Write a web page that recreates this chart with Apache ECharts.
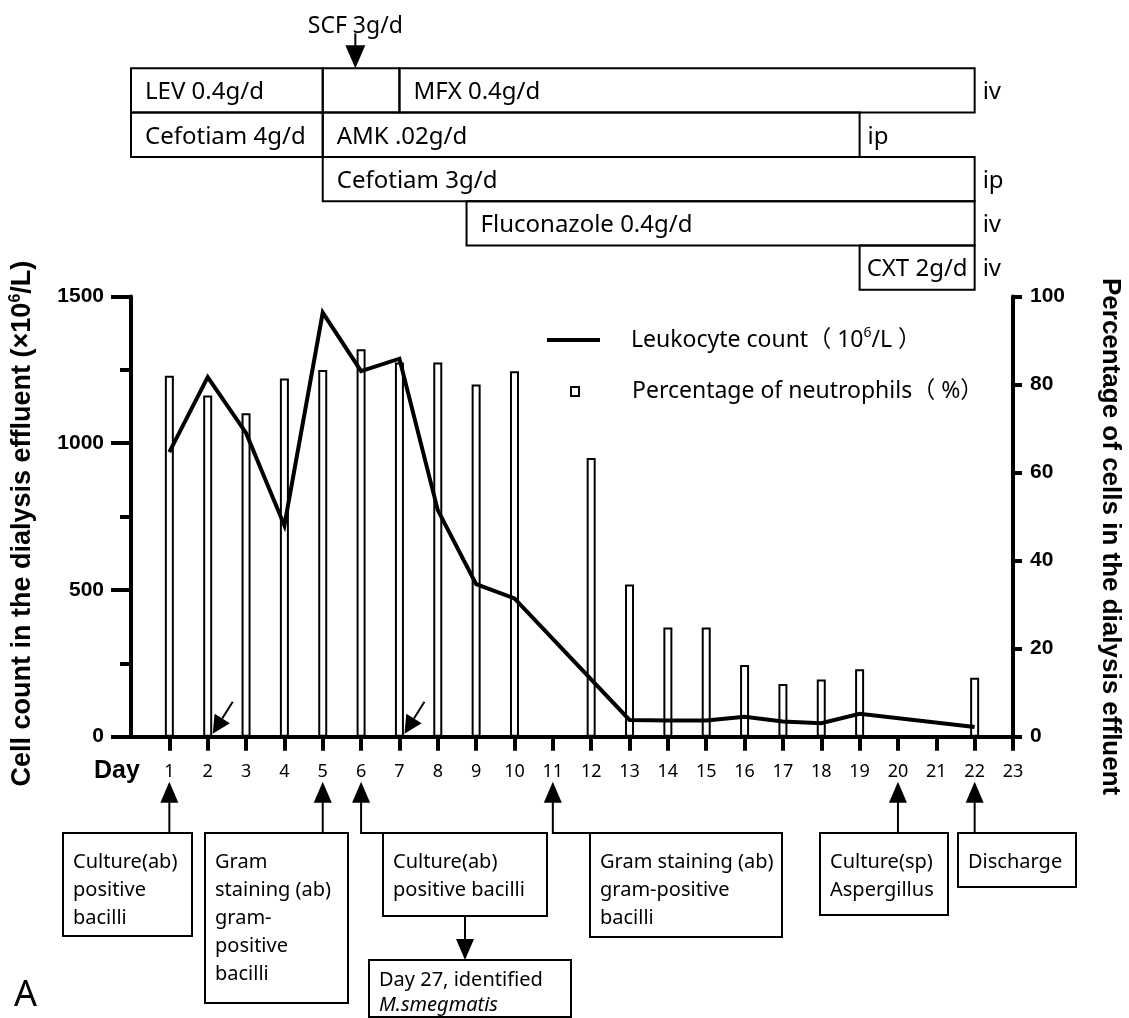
<!DOCTYPE html>
<html><head><meta charset="utf-8">
<script src="https://cdn.jsdelivr.net/npm/echarts@6/dist/echarts.min.js"></script>
<style>html,body{margin:0;padding:0;background:#fff}#c{width:1129px;height:1018px}</style>
</head><body><div id="c"></div>
<script>
// ---------- data ----------
const days = [1,2,3,4,5,6,7,8,9,10,11,12,13,14,15,16,17,18,19,20,21,22];
const leukocyte = [970,1225,1035,720,1445,1246,1288,772,520,471,null,null,57,55,55,68,52,46,78,null,null,33];
const neutrophilPct = [82,77.5,73.5,81.4,83.3,88,85,85,80,83,null,63.3,34.6,24.8,24.8,16.3,12,13,15.3,null,null,13.4];
const dayTicks = [1,2,3,4,5,6,7,8,9,10,11,12,13,14,15,16,17,18,19,20,21,22,23];

const treatLabels = ['LEV 0.4g/d','','MFX 0.4g/d','Cefotiam 4g/d','AMK .02g/d','Cefotiam 3g/d','Fluconazole 0.4g/d','CXT 2g/d'];
const treatRow    = [0,0,0,1,1,2,3,4];
const treatStart  = [0,5,7,0,5,5,8.75,19];
const treatEnd    = [5,7,22,5,19,22,22,22];
const routeLabels = ['iv','ip','ip','iv','iv'];
const routeEndDay = [22,19,22,22,22];
const scfDay = 5.85;
const scfLabel = 'SCF 3g/d';

const markerDays = [2,7];
const eventDays = [1,5,6,11,20,22];
const eventTexts = [
  ['Culture(ab)','positive','bacilli'],
  ['Gram','staining (ab)','gram-','positive','bacilli'],
  ['Culture(ab)','positive bacilli'],
  ['Gram staining (ab)','gram-positive','bacilli'],
  ['Culture(sp)','Aspergillus'],
  ['Discharge']
];
const followText = ['Day 27, identified','M.smegmatis'];

// ---------- layout (pixels) ----------
const eventBoxLayout = [[63,192,936],[205,348,1003],[383,547,916],[590,782,937],[820,948,915],[958,1076,887]];
const boxTop = 833;
const followBoxLayout = [369,571,960,1017];

const measureCtx = document.createElement('canvas').getContext('2d');
function textWidth(t, font){ measureCtx.font = font; return measureCtx.measureText(t).width; }

const FONT = "'Noto Sans','Noto Sans CJK SC',sans-serif";
const BOLD = "'Liberation Sans',Arial,sans-serif";

const chart = echarts.init(document.getElementById('c'), null, {renderer:'canvas'});

const option = {
  animation: false,
  backgroundColor: '#fff',
  grid: [
    {left:131, right:116, top:296.5, bottom:281.3, outerBoundsMode:'none', containLabel:false},
    {left:131, right:116, top:68.3, height:221.5, outerBoundsMode:'none', containLabel:false}
  ],
  legend: [
    {
      data:[{name:'Leukocyte count', icon:'rect'}],
      left:547, top:326, padding:0, selectedMode:false,
      itemWidth:53, itemHeight:4,
      itemStyle:{color:'#000', borderWidth:0},
      formatter: () => '{a|Leukocyte count（ 10}{s|6}{a|/L ）}',
      textStyle:{fontFamily:FONT, fontSize:23, color:'#000', padding:[0,0,0,26],
        rich:{a:{fontFamily:FONT, fontSize:23, color:'#000', lineHeight:28},
              s:{fontFamily:FONT, fontSize:14, color:'#000', verticalAlign:'top', lineHeight:14}}}
    },
    {
      data:[{name:'Percentage of neutrophils', icon:'rect'}],
      left:570, top:380, padding:0, selectedMode:false,
      itemWidth:8, itemHeight:9,
      itemStyle:{color:'#fff', borderColor:'#000', borderWidth:2},
      formatter: () => 'Percentage of neutrophils（ %）',
      textStyle:{fontFamily:FONT, fontSize:23, color:'#000', padding:[0,0,0,48]}
    }
  ],
  xAxis: [
    {
      gridIndex:0, type:'value', min:0, max:23, interval:1,
      axisLine:{show:true, onZero:false, lineStyle:{color:'#000', width:4}},
      axisTick:{show:true, length:14, customValues:dayTicks, lineStyle:{color:'#000', width:4}},
      axisLabel:{show:true, customValues:dayTicks, fontFamily:FONT, fontSize:18, color:'#000', margin:26},
      splitLine:{show:false}
    },
    {gridIndex:1, type:'value', min:0, max:23, show:false}
  ],
  yAxis: [
    {
      gridIndex:0, type:'value', min:0, max:1500, interval:500, position:'left',
      axisLine:{show:true, lineStyle:{color:'#000', width:4}},
      axisTick:{show:true, length:20, lineStyle:{color:'#000', width:4}},
      minorTick:{show:true, splitNumber:2, length:11, lineStyle:{color:'#000', width:4}},
      axisLabel:{fontFamily:BOLD, fontWeight:'bold', fontSize:21, color:'#000', margin:27, formatter: v => String(v)},
      splitLine:{show:false}, minorSplitLine:{show:false},
      name:'{t|Cell count in the dialysis effluent (×10}{s|6}{t|/L)}',
      nameLocation:'middle', nameGap:93, nameMoveOverlap:false,
      nameTextStyle:{padding:[0,14,0,0],
        rich:{t:{fontFamily:BOLD, fontWeight:'bold', fontSize:27, color:'#000', lineHeight:30},
              s:{fontFamily:BOLD, fontWeight:'bold', fontSize:16, color:'#000', verticalAlign:'top', lineHeight:16}}}
    },
    {
      gridIndex:0, type:'value', min:0, max:100, interval:20, position:'right',
      axisLine:{show:true, lineStyle:{color:'#000', width:4}},
      axisTick:{show:true, length:9, lineStyle:{color:'#000', width:4}},
      axisLabel:{fontFamily:BOLD, fontWeight:'bold', fontSize:21, color:'#000', margin:17},
      splitLine:{show:false},
      name:'Percentage of cells in the dialysis effluent',
      nameLocation:'middle', nameGap:84, nameRotate:-90, nameMoveOverlap:false,
      nameTextStyle:{fontFamily:BOLD, fontWeight:'bold', fontSize:26, color:'#000', padding:[0,0,0,40]}
    },
    {gridIndex:1, type:'category', data:['0','1','2','3','4'], inverse:true, show:false}
  ],
  graphic: [
    {type:'text', left:94, top:759, style:{text:'Day', fontFamily:BOLD, fontWeight:'bold', fontSize:25, fill:'#000'}},
    {type:'text', left:14, top:978, style:{text:'A', fontFamily:FONT, fontSize:36, fill:'#000'}}
  ],
  series: [
    {
      name:'Percentage of neutrophils', type:'bar', xAxisIndex:0, yAxisIndex:1,
      barWidth:9,
      itemStyle:{color:'#fff', borderColor:'#000', borderWidth:2},
      data: days.map((d,i) => [d, neutrophilPct[i]]),
      silent:true
    },
    {
      name:'Leukocyte count', type:'line', xAxisIndex:0, yAxisIndex:0,
      showSymbol:false, symbol:'none', connectNulls:true,
      lineStyle:{color:'#000', width:4, join:'miter', cap:'butt'},
      itemStyle:{color:'#000'},
      data: days.map((d,i) => [d, leukocyte[i]]),
      silent:true
    },
    // small diagonal markers at x axis
    {
      type:'custom', xAxisIndex:0, yAxisIndex:0, clip:false, silent:true, z:5,
      data: markerDays.map(d => [d, 0]),
      renderItem(params, api){
        const p = api.coord([api.value(0), 0]);
        const tip = [p[0]+5, p[1]-3];
        const tail = [p[0]+25, p[1]-35];
        const dx = tip[0]-tail[0], dy = tip[1]-tail[1];
        const L = Math.sqrt(dx*dx+dy*dy), ux = dx/L, uy = dy/L;
        const hl = 18, hw = 9;
        const base = [tip[0]-ux*hl, tip[1]-uy*hl];
        return {type:'group', children:[
          {type:'line', shape:{x1:tail[0], y1:tail[1], x2:base[0], y2:base[1]}, style:{stroke:'#000', lineWidth:2}},
          {type:'polygon', shape:{points:[tip,[base[0]-uy*hw, base[1]+ux*hw],[base[0]+uy*hw, base[1]-ux*hw]]}, style:{fill:'#000'}}
        ]};
      }
    },
    // event annotation boxes below the axis
    {
      type:'custom', xAxisIndex:0, yAxisIndex:0, clip:false, silent:true, z:5,
      data: eventDays.map(d => [d, 0]),
      renderItem(params, api){
        const i = params.dataIndex;
        const p = api.coord([api.value(0), 0]);
        const ax = p[0];
        const tipY = p[1] + 45;
        const b = eventBoxLayout[i];
        const children = [];
        const pts = [[ax, tipY+18],[ax, boxTop]];
        if (ax < b[0]) pts.push([b[0], boxTop]);
        children.push({type:'polyline', shape:{points:pts}, style:{stroke:'#000', lineWidth:2, fill:null}});
        children.push({type:'polygon', shape:{points:[[ax,tipY],[ax-9,tipY+21],[ax+9,tipY+21]]}, style:{fill:'#000'}});
        children.push({type:'rect', shape:{x:b[0], y:boxTop, width:b[1]-b[0], height:b[2]-boxTop}, style:{fill:'#fff', stroke:'#000', lineWidth:2}});
        children.push({type:'text', style:{text:eventTexts[i].join('\n'), x:b[0]+10, y:boxTop+15, fontFamily:FONT, fontSize:20, lineHeight:28, fill:'#000', align:'left', verticalAlign:'top'}});
        if (i === 2) {
          const f = followBoxLayout;
          const cx = (b[0]+b[1])/2;
          children.push({type:'line', shape:{x1:cx, y1:b[2], x2:cx, y2:f[2]-20}, style:{stroke:'#000', lineWidth:2}});
          children.push({type:'polygon', shape:{points:[[cx,f[2]],[cx-9,f[2]-21],[cx+9,f[2]-21]]}, style:{fill:'#000'}});
          children.push({type:'rect', shape:{x:f[0], y:f[2], width:f[1]-f[0], height:f[3]-f[2]}, style:{fill:'#fff', stroke:'#000', lineWidth:2}});
          children.push({type:'text', style:{text:'{n|'+followText[0]+'}\n{i|'+followText[1]+'}', x:f[0]+10, y:f[2]+8, align:'left', verticalAlign:'top',
            rich:{n:{fontFamily:FONT, fontSize:20, lineHeight:25, fill:'#000'}, i:{fontFamily:FONT, fontSize:20, fontStyle:'italic', lineHeight:25, fill:'#000'}}}});
        }
        return {type:'group', children};
      }
    },
    // treatment bars
    {
      type:'custom', xAxisIndex:1, yAxisIndex:2, clip:false, silent:true,
      encode:{x:[0,2], y:1},
      data: treatRow.map((r,i) => [treatStart[i], r, treatEnd[i]]),
      renderItem(params, api){
        const i = params.dataIndex;
        const a = api.coord([api.value(0), api.value(1)]);
        const b = api.coord([api.value(2), api.value(1)]);
        const h = api.size([0,1])[1];
        const w = b[0]-a[0];
        const label = treatLabels[i];
        const tw = textWidth(label, "24px 'Noto Sans'");
        const pad = (tw + 28 > w) ? (w - tw)/2 : 14;
        return {type:'group', children:[
          {type:'rect', shape:{x:a[0], y:a[1]-h/2, width:w, height:h}, style:{fill:'none', stroke:'#000', lineWidth:2}},
          {type:'text', style:{text:label, x:a[0]+pad, y:a[1]+2, fontFamily:FONT, fontSize:24, fill:'#000', align:'left', verticalAlign:'middle'}}
        ]};
      }
    },
    // route labels
    {
      type:'custom', xAxisIndex:1, yAxisIndex:2, clip:false, silent:true,
      data: routeEndDay.map((d,i) => [d, i]),
      renderItem(params, api){
        const p = api.coord([api.value(0), api.value(1)]);
        return {type:'text', style:{text:routeLabels[params.dataIndex], x:p[0]+8, y:p[1]+2, fontFamily:FONT, fontSize:24, fill:'#000', align:'left', verticalAlign:'middle'}};
      }
    },
    // SCF arrow
    {
      type:'custom', xAxisIndex:1, yAxisIndex:2, clip:false, silent:true,
      data: [[scfDay, 0]],
      renderItem(params, api){
        const p = api.coord([api.value(0), api.value(1)]);
        const h = api.size([0,1])[1];
        const top = p[1]-h/2;
        return {type:'group', children:[
          {type:'line', shape:{x1:p[0], y1:top-35, x2:p[0], y2:top-20}, style:{stroke:'#000', lineWidth:2}},
          {type:'polygon', shape:{points:[[p[0],top],[p[0]-10,top-23],[p[0]+10,top-23]]}, style:{fill:'#000'}},
          {type:'text', style:{text:scfLabel, x:p[0], y:top-42, fontFamily:FONT, fontSize:23, fill:'#000', align:'center', verticalAlign:'middle'}}
        ]};
      }
    }
  ]
};
chart.setOption(option);
</script>
</body></html>
